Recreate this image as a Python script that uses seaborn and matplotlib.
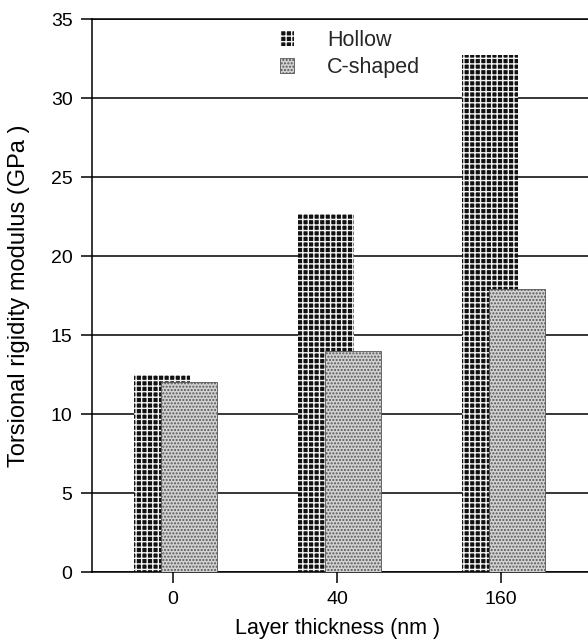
import numpy as np
import pandas as pd
import matplotlib
matplotlib.use('Agg')
import matplotlib.pyplot as plt
import seaborn as sns

# ---- data ----
categories = ['0', '40', '160']
hollow = [12.5, 22.7, 32.75]
c_shaped = [12.05, 14.0, 17.95]
series_names = ['Hollow', 'C-shaped']
y_ticks = [0, 5, 10, 15, 20, 25, 30, 35]

sns.set_style('white')
plt.rcParams['font.family'] = ['Liberation Sans', 'DejaVu Sans']
plt.rcParams['hatch.linewidth'] = 1.0

fig = plt.figure(figsize=(5.88, 6.43), dpi=100)
ax = fig.add_axes([0.1565, 0.1104, 0.8435, 0.8596])

pos = np.arange(len(categories))
df_h = pd.DataFrame({'x': pos - 0.065, 'y': hollow})
df_c = pd.DataFrame({'x': pos + 0.097, 'y': c_shaped})

sns.barplot(data=df_h, x='x', y='y', native_scale=True, width=0.34,
            color='#111111', saturation=1, edgecolor='#f2f2f2', hatch='+++',
            linewidth=0, errorbar=None, label=series_names[0], ax=ax, zorder=2)
sns.barplot(data=df_c, x='x', y='y', native_scale=True, width=0.34,
            color='#d2d2d2', saturation=1, edgecolor='#555555', hatch='.....',
            linewidth=0.6, errorbar=None, label=series_names[1], ax=ax, zorder=3)

ax.set_xlim(-0.493, 2.53)
ax.set_ylim(0, 35)
ax.set_xticks(pos)
ax.set_xticklabels(categories)
ax.set_yticks(y_ticks)
ax.set_yticklabels([str(v) for v in y_ticks])

ax.set_axisbelow(True)
ax.yaxis.grid(True, color='black', linewidth=1.1)
ax.xaxis.grid(False)

for s in ['left', 'bottom', 'top']:
    ax.spines[s].set_visible(True)
    ax.spines[s].set_color('black')
    ax.spines[s].set_linewidth(1.1)
ax.spines['right'].set_visible(False)

ax.tick_params(axis='both', which='major', bottom=True, left=True, top=False, right=False,
               direction='out', length=8, width=1.1, color='black',
               labelsize=14, pad=6, labelcolor='black')

ax.set_xlabel('Layer thickness (nm )', fontsize=15.5, color='black')
ax.set_ylabel('Torsional rigidity modulus (GPa )', fontsize=17, color='black')
ax.xaxis.set_label_coords(0.496, -0.083)
ax.yaxis.set_label_coords(-0.125, 0.5)

ax.legend(loc='upper left', bbox_to_anchor=(280 / 588, 1 - 30 / 643),
          bbox_transform=fig.transFigure, frameon=False, fontsize=15.5,
          handlelength=0.65, handleheight=0.7, handletextpad=1.55,
          labelspacing=0.28, borderpad=0, borderaxespad=0)

fig.savefig('out.png', dpi=100)
